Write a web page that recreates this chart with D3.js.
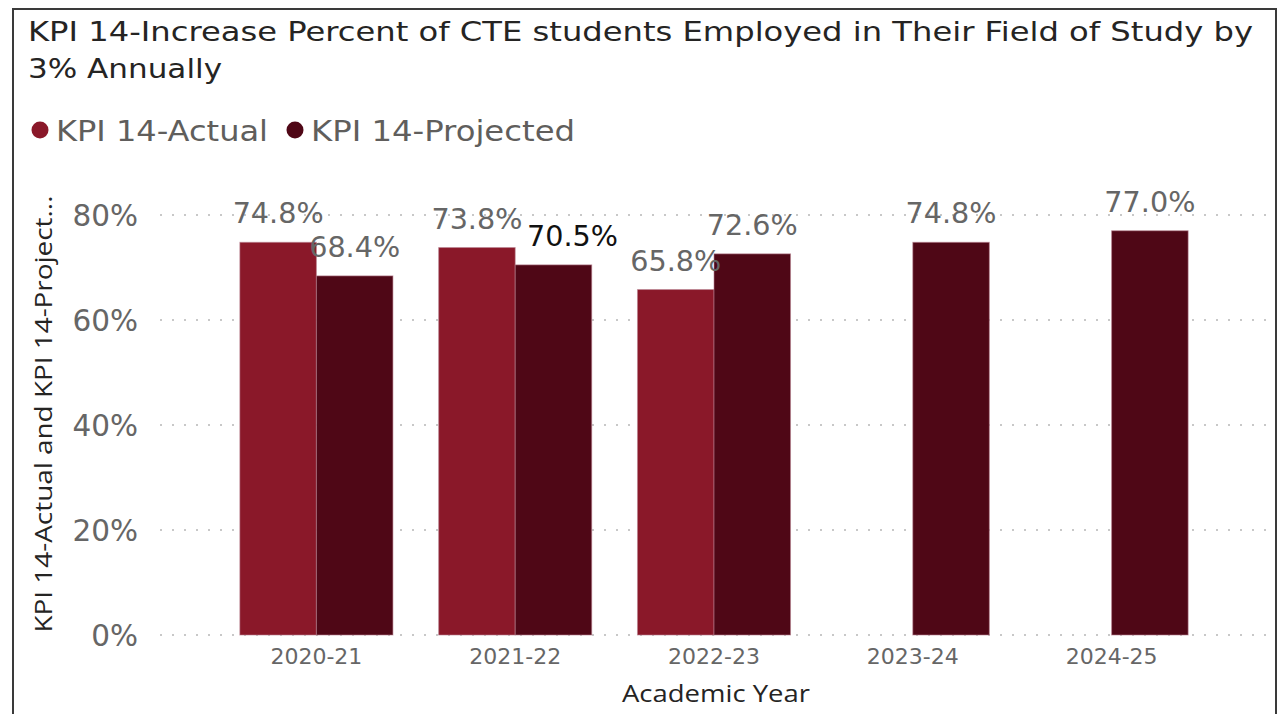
<!DOCTYPE html>
<html>
<head>
<meta charset="utf-8">
<script src="https://cdn.jsdelivr.net/npm/d3@7"></script>
<style>
  html, body { margin: 0; padding: 0; background: #ffffff; }
  svg { display: block; }
</style>
</head>
<body>
<script>
// ---- data ----
const categories = ["2020-21", "2021-22", "2022-23", "2023-24", "2024-25"];
const seriesNames = ["KPI 14-Actual", "KPI 14-Projected"];
const actualValues = [74.8, 73.8, 65.8, null, null];
const projectedValues = [68.4, 70.5, 72.6, 74.8, 77.0];
const yTicks = [0, 20, 40, 60, 80];
const titleLines = ["KPI 14-Increase Percent of CTE students Employed in Their Field of Study by", "3% Annually"];
const xTitle = "Academic Year";
const yTitle = "KPI 14-Actual and KPI 14-Project...";

// ---- layout ----
const W = 1279, H = 714;
const colors = ["#8a1829", "#4f0716"];
const mainFont = "'DejaVu Sans', sans-serif";
const axisFont = "'Open Sans', sans-serif";

const svg = d3.select("body").append("svg").attr("width", W).attr("height", H);

// frame
svg.append("rect").attr("x", 13).attr("y", 9).attr("width", 1263).attr("height", 720)
  .attr("fill", "none").attr("stroke", "#3a3a3a").attr("stroke-width", 2);

function fit(sel, width) {
  sel.attr("textLength", width).attr("lengthAdjust", "spacingAndGlyphs");
}

// title
const titleWidths = [1225, 194];
const titleBaselines = [41, 78];
titleLines.forEach((t, i) => {
  svg.append("text").attr("x", 28).attr("y", titleBaselines[i])
    .attr("font-family", mainFont).attr("font-size", 27).attr("fill", "#252423")
    .text(t).call(fit, titleWidths[i]);
});

// legend
const legendX = [40, 295];
const legendW = [212, 264];
seriesNames.forEach((s, i) => {
  svg.append("circle").attr("cx", legendX[i]).attr("cy", 130).attr("r", 8.5).attr("fill", colors[i]);
  svg.append("text").attr("x", legendX[i] + 16).attr("y", 141)
    .attr("font-family", mainFont).attr("font-size", 28).attr("fill", "#605e5c")
    .text(s).call(fit, legendW[i]);
});

// scales
const x = d3.scaleBand().domain(categories).range([217, 1211]).paddingInner(0.23).paddingOuter(0.115);
const xs = d3.scaleBand().domain(seriesNames).range([0, x.bandwidth()]);
const y = d3.scaleLinear().domain([0, 80]).range([635, 215]);

// gridlines
const grid = svg.append("g");
grid.selectAll("line").data(yTicks).join("line")
  .attr("x1", 160).attr("x2", 1270)
  .attr("y1", d => y(d)).attr("y2", d => y(d))
  .attr("stroke", "#c8c8c8").attr("stroke-width", 2)
  .attr("stroke-dasharray", "2,10").attr("stroke-linecap", "butt");

// y axis
const yAxis = svg.append("g").attr("transform", "translate(138,0)")
  .call(d3.axisLeft(y).tickValues(yTicks).tickFormat(d => d + "%").tickSize(0).tickPadding(0));
yAxis.select(".domain").remove();
yAxis.selectAll("text").attr("font-family", mainFont).attr("font-size", 29.5)
  .attr("fill", "#666666").attr("dy", "0.36em");

// x axis
const xAxis = svg.append("g").attr("transform", "translate(0,645)")
  .call(d3.axisBottom(x).tickSize(0).tickPadding(0));
xAxis.select(".domain").remove();
xAxis.selectAll("text").attr("font-family", mainFont).attr("font-size", 22)
  .attr("fill", "#666666").attr("dy", "0.88em").attr("text-anchor", "middle");

// axis titles
svg.append("text").attr("x", 716).attr("y", 702).attr("text-anchor", "middle")
  .attr("font-family", axisFont).attr("font-size", 24).attr("fill", "#252423")
  .text(xTitle).call(fit, 188);
svg.append("text").attr("transform", "translate(52,414) rotate(-90)").attr("text-anchor", "middle")
  .attr("font-family", axisFont).attr("font-size", 24).attr("font-weight", 500).attr("fill", "#252423")
  .text(yTitle).call(fit, 437);

// bars
const rows = categories.map((c, i) => ({ cat: c, vals: [actualValues[i], projectedValues[i]] }));
const barData = [];
rows.forEach(r => r.vals.forEach((v, j) => { if (v != null) barData.push({ cat: r.cat, series: seriesNames[j], j, v }); }));

svg.append("g").selectAll("rect").data(barData).join("rect")
  .attr("x", d => x(d.cat) + xs(d.series))
  .attr("y", d => y(d.v))
  .attr("width", xs.bandwidth())
  .attr("height", d => y(0) - y(d.v))
  .attr("fill", d => colors[d.j])
  .attr("stroke", "#b88090").attr("stroke-opacity", 0.6).attr("stroke-width", 1);

// data labels
const highlight = { cat: "2021-22", series: "KPI 14-Projected" };
const isHi = d => d.cat === highlight.cat && d.series === highlight.series;
svg.append("g").selectAll("text").data(barData).join("text")
  .attr("x", d => x(d.cat) + xs(d.series) + xs.bandwidth() / 2 + (isHi(d) ? 19 : 0))
  .attr("y", d => y(d.v) - 19)
  .attr("text-anchor", "middle")
  .attr("font-family", mainFont).attr("font-size", 29)
  .attr("fill", d => isHi(d) ? "#111111" : "#666666")
  .text(d => d.v.toFixed(1) + "%")
  .each(function() { d3.select(this).call(fit, 91); });
</script>
</body>
</html>
